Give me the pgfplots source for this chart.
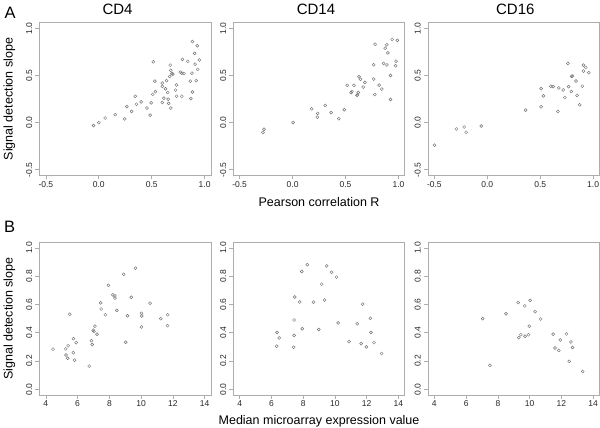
\documentclass[border=0pt]{standalone}
\usepackage{fontspec}
\setmainfont{Liberation Sans}
\usepackage{pgfplots}
\pgfplotsset{compat=1.18}

\definecolor{framegray}{gray}{0.68}
\definecolor{ptgray}{gray}{0.45}

\pgfplotsset{
  panel/.style={
    scale only axis, width=171.5pt, height=152.8pt,
    axis line style={framegray, line width=0.8pt},
    tick style={framegray, line width=0.7pt},
    tick align=outside, major tick length=4pt,
    tick pos=left,
    ticklabel style={font=\fontsize{8.5}{10}\selectfont, text=black!85, inner sep=0pt},
    yticklabel style={rotate=90, anchor=south},
    xticklabel style={anchor=north},
    xticklabel shift=1.5pt,
    yticklabel shift=3pt,
    title style={font=\fontsize{15}{18}\selectfont, anchor=base, yshift=1.7pt},
    label style={font=\fontsize{12.5}{15}\selectfont},
    clip=false,
  },
  rowA/.style={
    xmin=-0.56, xmax=1.06, ymin=-0.56, ymax=1.06,
    xtick={-0.5,0,0.5,1}, xticklabels={-0.5,0.0,0.5,1.0},
    ytick={-0.5,0,0.5,1}, yticklabels={-0.5,0.0,0.5,1.0},
  },
  rowB/.style={
    xmin=3.6, xmax=14.4, ymin=-0.04, ymax=1.04,
    xtick={4,6,8,10,12,14}, xticklabels={4,6,8,10,12,14},
    ytick={0,0.2,0.4,0.6,0.8,1}, yticklabels={0.0,0.2,0.4,0.6,0.8,1.0},
  },
  pts/.style={only marks, mark=o, mark size=1.5pt, draw=ptgray, mark options={line width=0.45pt, draw=ptgray}},
}

\begin{document}
\begin{tikzpicture}
\useasboundingbox (0pt,0pt) rectangle (600pt,428pt);

% ---------- Row A ----------
\begin{axis}[panel, rowA, at={(39.5pt,252.5pt)}, anchor=south west,
  title={CD4}, title style={at={(axis description cs:0.455,1)}},
  ylabel={Signal detection slope},
  ylabel style={at={(axis description cs:-0.157,0.5)}, anchor=base}]
\addplot[pts] table {
x y
-0.05 -0.03
0.00 0.00
0.06 0.05
0.155 0.085
0.245 0.04
0.265 0.17
0.31 0.12
0.345 0.28
0.355 0.195
0.40 0.22
0.455 0.155
0.485 0.08
0.495 0.21
0.51 0.30
0.515 0.645
0.53 0.44
0.535 0.33
0.60 0.42
0.60 0.385
0.60 0.215
0.615 0.26
0.63 0.36
0.64 0.445
0.65 0.32
0.655 0.25
0.66 0.205
0.67 0.49
0.675 0.61
0.68 0.555
0.68 0.155
0.69 0.52
0.70 0.515
0.725 0.345
0.735 0.40
0.735 0.28
0.77 0.535
0.785 0.28
0.785 0.525
0.79 0.67
0.805 0.52
0.84 0.65
0.865 0.44
0.87 0.255
0.88 0.525
0.885 0.86
0.885 0.325
0.905 0.735
0.91 0.62
0.92 0.445
0.93 0.815
0.935 0.565
0.95 0.665
};
\end{axis}

\begin{axis}[panel, rowA, at={(233.3pt,252.5pt)}, anchor=south west,
  title={CD14}, title style={at={(axis description cs:0.482,1)}},
  xlabel={Pearson correlation R},
  xlabel style={at={(axis description cs:0.5,-0.2)}, anchor=base}]
\addplot[pts] table {
x y
-0.27 -0.07
-0.28 -0.105
0.005 0.0
0.18 0.147
0.237 0.098
0.234 0.058
0.308 0.183
0.364 0.107
0.437 0.042
0.488 0.137
0.516 0.396
0.553 0.318
0.56 0.33
0.58 0.396
0.608 0.29
0.613 0.295
0.62 0.32
0.627 0.487
0.642 0.46
0.667 0.377
0.683 0.427
0.766 0.463
0.766 0.614
0.779 0.832
0.777 0.298
0.817 0.398
0.843 0.356
0.859 0.628
0.875 0.79
0.89 0.826
0.90 0.74
0.891 0.612
0.925 0.50
0.925 0.246
0.94 0.882
0.977 0.652
0.973 0.604
0.99 0.872
};
\end{axis}

\begin{axis}[panel, rowA, at={(428pt,252.5pt)}, anchor=south west,
  title={CD16}, title style={at={(axis description cs:0.509,1)}}]
\addplot[pts] table {
x y
-0.498 -0.239
-0.292 -0.067
-0.219 -0.046
-0.20 -0.102
-0.057 -0.035
0.362 0.133
0.508 0.361
0.508 0.168
0.53 0.284
0.60 0.386
0.622 0.382
0.667 0.119
0.676 0.368
0.717 0.347
0.733 0.267
0.762 0.628
0.768 0.382
0.794 0.33
0.797 0.491
0.806 0.495
0.838 0.442
0.848 0.288
0.873 0.189
0.898 0.386
0.908 0.547
0.908 0.61
0.93 0.586
0.959 0.53
};
\end{axis}

% ---------- Row B ----------
\begin{axis}[panel, rowB, at={(39.5pt,33pt)}, anchor=south west,
  ylabel={Signal detection slope},
  ylabel style={at={(axis description cs:-0.157,0.5)}, anchor=base}]
\addplot[pts] table {
x y
4.45 0.284
5.25 0.286
5.40 0.308
5.27 0.243
5.38 0.22
5.51 0.531
5.74 0.358
5.73 0.259
5.81 0.206
5.91 0.33
6.73 0.164
6.87 0.344
6.92 0.317
6.98 0.418
7.03 0.41
7.09 0.446
7.22 0.389
7.45 0.611
7.48 0.568
7.75 0.527
7.94 0.735
8.22 0.668
8.35 0.66
8.35 0.645
8.47 0.558
8.90 0.813
9.03 0.333
9.14 0.52
9.38 0.651
9.64 0.856
10.02 0.537
10.04 0.518
10.02 0.441
10.56 0.609
11.24 0.499
11.67 0.527
11.66 0.45
};
\end{axis}

\begin{axis}[panel, rowB, at={(233.3pt,33pt)}, anchor=south west,
  xlabel={Median microarray expression value},
  xlabel style={at={(axis description cs:0.5,-0.19)}, anchor=base}]
\addplot[pts] table {
x y
6.35 0.402
6.33 0.305
6.49 0.363
7.43 0.49
7.47 0.653
7.43 0.381
7.40 0.298
7.78 0.618
7.91 0.833
7.94 0.428
8.26 0.881
8.65 0.616
8.98 0.423
9.17 0.744
9.35 0.631
9.48 0.872
9.79 0.828
10.10 0.793
10.20 0.47
10.89 0.338
11.40 0.463
11.65 0.323
11.75 0.602
11.98 0.30
12.23 0.502
12.27 0.402
12.46 0.33
12.94 0.253
};
\end{axis}

\begin{axis}[panel, rowB, at={(428pt,33pt)}, anchor=south west]
\addplot[pts] table {
x y
7.04 0.50
7.50 0.17
8.51 0.534
9.28 0.613
9.69 0.59
10.03 0.629
10.34 0.549
10.69 0.497
9.98 0.446
9.32 0.366
9.45 0.386
9.71 0.375
9.92 0.386
11.48 0.39
11.60 0.292
11.93 0.349
11.84 0.275
12.32 0.392
12.60 0.335
12.70 0.296
12.49 0.198
13.34 0.126
};
\end{axis}

\node[anchor=base west, font=\fontsize{16.5}{20}\selectfont] at (1pt,409.7pt) {A};
\node[anchor=base west, font=\fontsize{16.5}{20}\selectfont] at (0.5pt,195.3pt) {B};
\end{tikzpicture}
\end{document}
